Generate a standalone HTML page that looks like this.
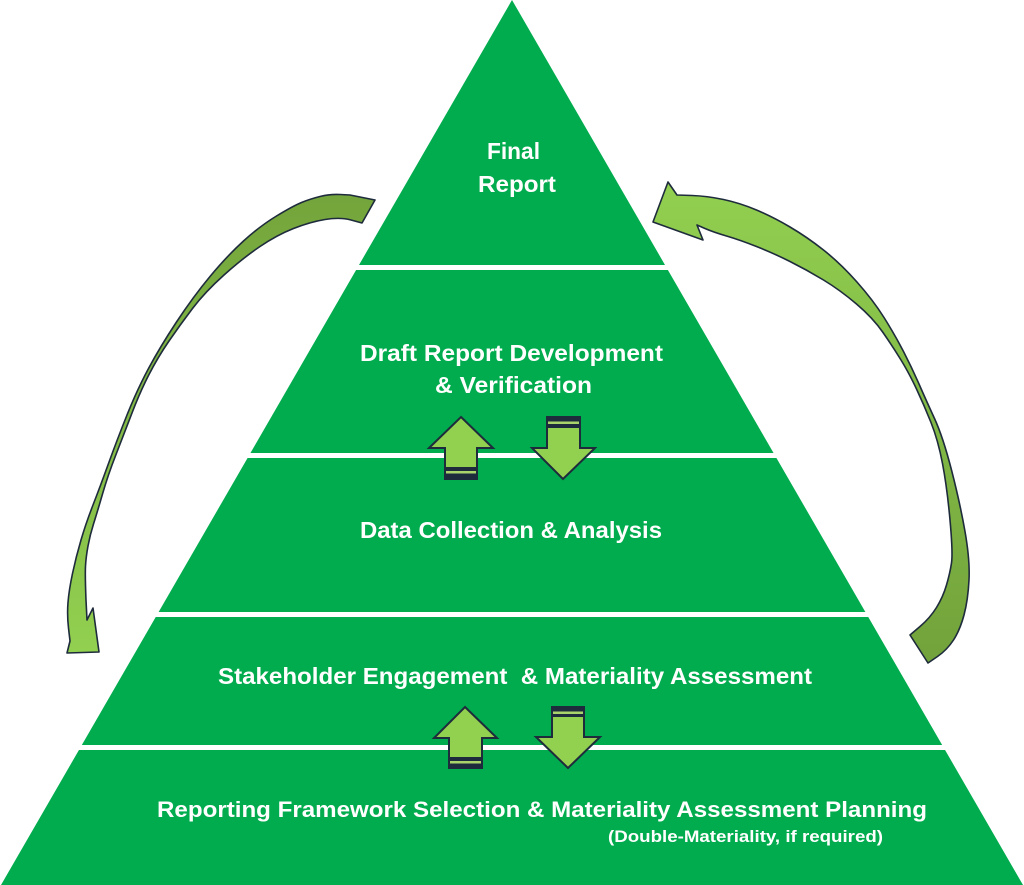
<!DOCTYPE html>
<html>
<head>
<meta charset="utf-8">
<style>
  html, body { margin: 0; padding: 0; background: #ffffff; }
  body { width: 1024px; height: 885px; overflow: hidden; }
  svg { display: block; }
  text { font-family: "Liberation Sans", sans-serif; font-weight: bold; fill: #ffffff; }
</style>
</head>
<body>
<svg width="1024" height="885" viewBox="0 0 1024 885" xmlns="http://www.w3.org/2000/svg">
  <defs>
    <linearGradient id="gl" x1="0" y1="200" x2="0" y2="655" gradientUnits="userSpaceOnUse">
      <stop offset="0" stop-color="#74A53C"/>
      <stop offset="1" stop-color="#92D050"/>
    </linearGradient>
    <linearGradient id="gr" x1="0" y1="180" x2="0" y2="665" gradientUnits="userSpaceOnUse">
      <stop offset="0" stop-color="#92D050"/>
      <stop offset="1" stop-color="#72A23B"/>
    </linearGradient>
  </defs>

  <!-- Pyramid -->
  <polygon points="512,0 1023,885 1,885" fill="#00AC4E"/>
  <!-- white separators -->
  <rect x="0" y="265" width="1024" height="5" fill="#ffffff"/>
  <rect x="0" y="453" width="1024" height="5" fill="#ffffff"/>
  <rect x="0" y="612" width="1024" height="5" fill="#ffffff"/>
  <rect x="0" y="745" width="1024" height="5" fill="#ffffff"/>

  <!-- Left curved arrow -->
  <path fill="url(#gl)" stroke="#1E2B3C" stroke-width="1.6" stroke-linejoin="round"
    d="M375,200 L350,195 L340,194.5 Q330,194 320,196.5 Q310,199 301.5,202.5 Q293,206 276.5,216 Q260,226 243.5,241 Q227,256 210,276.5 Q193,297 176.5,322 Q160,347 148.5,368.5 Q137,390 127,415 Q117,440 108.5,463.5 Q100,487 93,505 Q86,523 81,540 Q76,557 72.5,573.5 Q69,590 68,602.5 Q67,615 68.5,628 L70,641
       L67,653 L99,652 L93,608 L87,620
       L86,600 Q85,575 85.5,566 Q86,557 88,546 Q90,535 93.5,524 Q97,513 102.5,494 Q108,475 116,454.5 Q124,434 132,413 Q140,392 149,374.5 Q158,357 169,341 Q180,325 192.5,308.5 Q205,292 224,275 Q243,258 260,246.5 Q277,235 293.5,228.5 Q310,222 325,219.5 Q340,217 351,220 L362,223 Z"/>

  <!-- Right curved arrow -->
  <path fill="url(#gr)" stroke="#1E2B3C" stroke-width="1.6" stroke-linejoin="round"
    d="M653,222 L668,182 L677,195 L692,195.5 Q707,196 723.5,199.5 Q740,203 756.5,210 Q773,217 790,227 Q807,237 823.5,250 Q840,263 856.5,281.5 Q873,300 884,317.5 Q895,335 903.5,351.5 Q912,368 919,384 Q926,400 934.5,418.5 Q943,437 951.5,470 Q960,503 965,531.5 Q970,560 969,580 Q968,600 964,615 Q960,630 953.5,640 Q947,650 937.5,656.5 L928,663
       L910,635 L920,626.5 Q930,618 936.5,607.5 Q943,597 946.5,585 Q950,573 951.5,563 Q953,553 950,520 Q947,487 942.5,463.5 Q938,440 931,422.5 Q924,405 916.5,389 Q909,373 901,360 Q893,347 883,332.5 Q873,318 856.5,304 Q840,290 823.5,280 Q807,270 790,261.5 Q773,253 756.5,246.5 Q740,240 726.5,236 Q713,232 705,228.5 L697,225 L703,240 Z"/>

  <!-- Small arrows pair 1 -->
  <polygon points="461,417 493,448 477,448 477,479 445,479 445,448 429,448" fill="#92D050"/>
  <rect x="445" y="467" width="32" height="12" fill="#1E2B3C"/>
  <rect x="445" y="471" width="32" height="2.5" fill="#A9D46B"/>
  <polygon points="461,417 493,448 477,448 477,479 445,479 445,448 429,448" fill="none" stroke="#1E2B3C" stroke-width="2" stroke-linejoin="miter"/>

  <polygon points="547,417 580,417 580,448 595,448 563,479 532,448 547,448" fill="#92D050"/>
  <rect x="547" y="417" width="33" height="11" fill="#1E2B3C"/>
  <rect x="547" y="421.5" width="33" height="2.5" fill="#A9D46B"/>
  <polygon points="547,417 580,417 580,448 595,448 563,479 532,448 547,448" fill="none" stroke="#1E2B3C" stroke-width="2" stroke-linejoin="miter"/>

  <!-- Small arrows pair 2 -->
  <polygon points="465,707 497,738 482,738 482,768 449,768 449,738 434,738" fill="#92D050"/>
  <rect x="449" y="757" width="33" height="11" fill="#1E2B3C"/>
  <rect x="449" y="761" width="33" height="2.5" fill="#A9D46B"/>
  <polygon points="465,707 497,738 482,738 482,768 449,768 449,738 434,738" fill="none" stroke="#1E2B3C" stroke-width="2" stroke-linejoin="miter"/>

  <polygon points="552,707 584,707 584,737 600,737 568,768 536,737 552,737" fill="#92D050"/>
  <rect x="552" y="707" width="32" height="10" fill="#1E2B3C"/>
  <rect x="552" y="711.5" width="32" height="2.5" fill="#A9D46B"/>
  <polygon points="552,707 584,707 584,737 600,737 568,768 536,737 552,737" fill="none" stroke="#1E2B3C" stroke-width="2" stroke-linejoin="miter"/>

  <!-- Labels -->
  <text x="487" y="159" font-size="23" textLength="53" lengthAdjust="spacingAndGlyphs">Final</text>
  <text x="478" y="192" font-size="23" textLength="78" lengthAdjust="spacingAndGlyphs">Report</text>

  <text x="360" y="361" font-size="23" textLength="303" lengthAdjust="spacingAndGlyphs">Draft Report Development</text>
  <text x="435" y="393" font-size="23" textLength="157" lengthAdjust="spacingAndGlyphs">&amp; Verification</text>

  <text x="360" y="538" font-size="23" textLength="302" lengthAdjust="spacingAndGlyphs">Data Collection &amp; Analysis</text>

  <text x="218" y="684" font-size="23" textLength="594" lengthAdjust="spacingAndGlyphs" xml:space="preserve">Stakeholder Engagement  &amp; Materiality Assessment</text>

  <text x="157" y="817" font-size="22.5" textLength="770" lengthAdjust="spacingAndGlyphs">Reporting Framework Selection &amp; Materiality Assessment Planning</text>
  <text x="608" y="842" font-size="16.5" textLength="275" lengthAdjust="spacingAndGlyphs">(Double-Materiality, if required)</text>
</svg>
</body>
</html>
